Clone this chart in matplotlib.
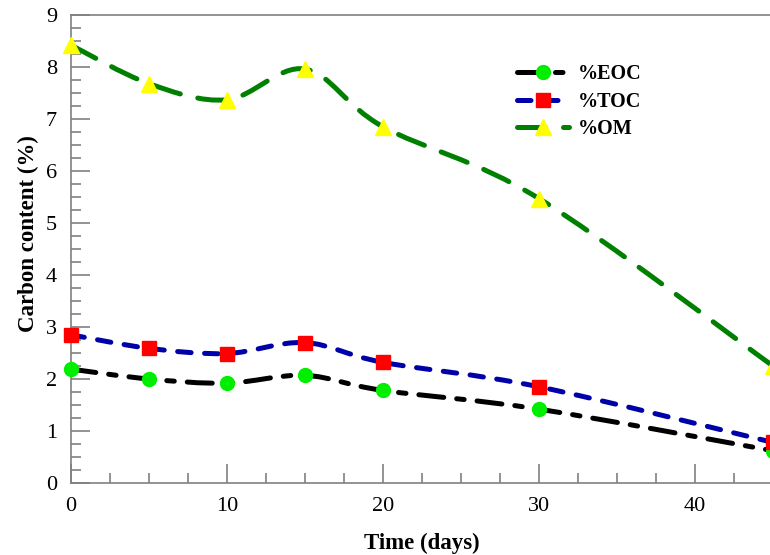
import numpy as np
import matplotlib.pyplot as plt
from matplotlib.path import Path
from matplotlib.patches import PathPatch
from matplotlib.lines import Line2D
from matplotlib.ticker import MultipleLocator

plt.rcParams['font.family'] = ['Liberation Serif', 'DejaVu Serif']

# sampling days
dias = [0, 5, 10, 15, 20, 30, 45]

# carbon content (%)
eoc = [2.19, 2.00, 1.92, 2.07, 1.78, 1.42, 0.62]
toc = [2.85, 2.59, 2.49, 2.70, 2.32, 1.85, 0.78]
om = [8.42, 7.68, 7.37, 7.96, 6.85, 5.47, 2.25]

series = [
    ("%EOC", eoc, "black", (0, (5.0, 2.6, 1.5, 2.6)), "o", "#00ee00", 10),
    ("%TOC", toc, "#0000a8", (0, (2.7, 2.7)), "s", "red", 10),
    ("%OM", om, "green", (0, (5.6, 3.6)), "^", "yellow", 12),
]


def curva(x, y):
    # smooth Catmull-Rom curve drawn as cubic Bezier segments
    p = np.column_stack([x, y]).astype(float)
    ext = np.vstack([p[0], p, p[-1]])
    verts = [p[0]]
    codes = [Path.MOVETO]
    for i in range(len(p) - 1):
        c1 = ext[i + 1] + (ext[i + 2] - ext[i]) / 6
        c2 = ext[i + 2] - (ext[i + 3] - ext[i + 1]) / 6
        verts += [c1, c2, ext[i + 2]]
        codes += [Path.CURVE4] * 3
    return Path(verts, codes)


fig = plt.figure(figsize=(7.7, 5.55), dpi=100)
ax = fig.add_axes([71 / 770, 1 - 483 / 555, 702 / 770, 468 / 555])

lw = 3.6
handles = []
for nombre, vals, col, ls, mk, mcol, ms in series:
    patch = PathPatch(curva(dias, vals), fill=False, edgecolor=col, lw=lw,
                      linestyle=ls, capstyle='round', zorder=2)
    ax.add_patch(patch)
    ax.plot(dias, vals, linestyle="none", marker=mk, markersize=ms,
            markerfacecolor=mcol, markeredgecolor=mcol, zorder=3, clip_on=False)
    handles.append(Line2D([], [], color=col, lw=lw, linestyle=ls,
                          dash_capstyle='round', marker=mk, markersize=ms,
                          markerfacecolor=mcol, markeredgecolor=mcol))

ax.set_xlim(0, 45)
ax.set_ylim(0, 9)
ax.xaxis.set_major_locator(MultipleLocator(10))
ax.xaxis.set_minor_locator(MultipleLocator(2.5))
ax.yaxis.set_major_locator(MultipleLocator(1))
ax.yaxis.set_minor_locator(MultipleLocator(0.25))
ax.tick_params(which='both', direction='in', color='gray', width=1.2,
               labelsize=16, top=False, right=False)
ax.tick_params(which='major', length=14)
ax.tick_params(which='minor', length=7)
ax.tick_params(axis='x', pad=10)
ax.tick_params(axis='y', pad=10)
for s in ax.spines.values():
    s.set_color('gray')
    s.set_linewidth(1.2)

ax.set_xlabel("Time (days)", fontsize=16.5, fontweight='bold', labelpad=12)
ax.set_ylabel("Carbon content (%)", fontsize=16.5, fontweight='bold')
ax.yaxis.set_label_coords(-0.046, 0.532)

ax.legend(handles, [s[0] for s in series], loc='upper left',
          bbox_to_anchor=(0.621, 0.917), frameon=False, borderpad=0,
          handlelength=2.6, numpoints=1, prop={'weight': 'bold', 'size': 14.5},
          labelspacing=0.38, handletextpad=0.4)

plt.savefig("out.png", dpi=100)
